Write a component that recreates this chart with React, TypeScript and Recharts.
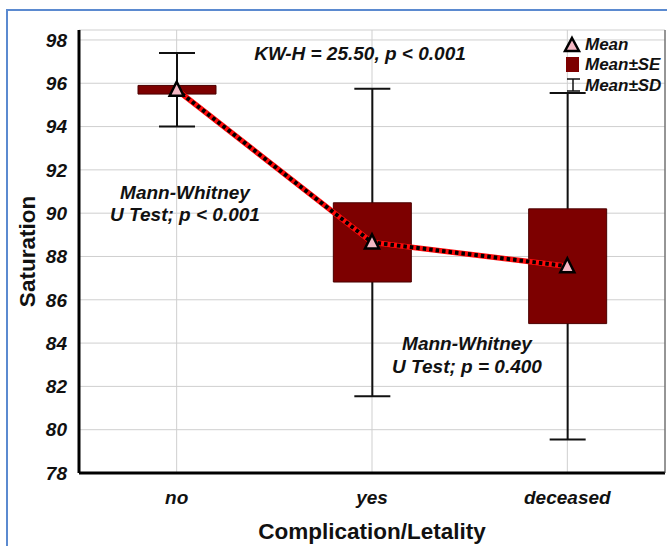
import { Bar, CartesianGrid, ComposedChart, Line, XAxis, YAxis } from "recharts";

const categories = ["no", "yes", "deceased"];
const means = [95.7, 88.65, 87.55];
const seValues = [0.2, 1.83, 2.65];
const sdValues = [1.7, 7.1, 8.0];
const yTicks = [78, 80, 82, 84, 86, 88, 90, 92, 94, 96, 98];

const data = categories.map((name, i) => ({
  name,
  mean: means[i],
  se: [means[i] - seValues[i], means[i] + seValues[i]],
  sd: [means[i] - sdValues[i], means[i] + sdValues[i]],
}));

const font = "'Liberation Sans', Arial, sans-serif";
const boxColor = "#7d0000";
const pink = "#f4b8c4";

function TriangleDot(props: any) {
  const { cx, cy } = props;
  if (cx == null || cy == null) return null;
  const s = 7;
  return (
    <path
      d={`M${cx},${cy - s - 1} L${cx + s},${cy + s - 1} L${cx - s},${cy + s - 1} Z`}
      fill={pink}
      stroke="#000"
      strokeWidth={2.5}
    />
  );
}

// whisker: vertical line with caps, spans the bar's range
function Whisker(props: any) {
  const { x, y, width, height } = props;
  if (x == null || y == null) return null;
  const mid = x + width / 2;
  return (
    <g stroke="#111" strokeWidth={2} fill="none">
      <line x1={mid} y1={y} x2={mid} y2={y + height} />
      <line x1={x} y1={y} x2={x + width} y2={y} />
      <line x1={x} y1={y + height} x2={x + width} y2={y + height} />
    </g>
  );
}

const tickStyle = { fill: "#111", fontFamily: font, fontSize: 19, fontWeight: 700, fontStyle: "italic" };
const noteStyle = { fontFamily: font, fontSize: 19, fontWeight: 700, fontStyle: "italic", fill: "#111" };
const legendText = { ...noteStyle, fontSize: 17 };

export default function App() {
  return (
    <div style={{ position: "absolute", left: 0, top: 0, width: 667, height: 546, background: "#fff", overflow: "hidden" }}>
      <div
        style={{
          position: "absolute",
          left: 6,
          top: 9,
          width: 700,
          height: 600,
          borderLeft: "2px solid #5b8ad0",
          borderTop: "2px solid #5b8ad0",
        }}
      />
      <ComposedChart width={667} height={546} data={data} margin={{ top: 30, right: 0, bottom: 0, left: 0 }}>
        <CartesianGrid stroke="#cfcfcf" strokeWidth={1} />
        <XAxis
          dataKey="name"
          xAxisId="top"
          orientation="top"
          height={0}
          tick={false}
          tickLine={false}
          axisLine={{ stroke: "#444", strokeWidth: 1 }}
        />
        <XAxis
          dataKey="name"
          height={73}
          tickLine={false}
          tickMargin={12}
          tick={tickStyle}
          axisLine={{ stroke: "#000", strokeWidth: 3 }}
          label={{ value: "Complication/Letality", position: "insideBottom", offset: 7, style: { fontFamily: font, fontSize: 22.5, fontWeight: 700, fill: "#111" } }}
        />
        <YAxis
          domain={[78, 98.46]}
          ticks={yTicks}
          allowDataOverflow
          width={79}
          tickLine={false}
          tickMargin={6}
          tick={tickStyle}
          axisLine={{ stroke: "#000", strokeWidth: 3 }}
          label={{ value: "Saturation", angle: -90, position: "insideLeft", offset: 27, style: { fontFamily: font, fontSize: 22.5, fontWeight: 700, fill: "#111", textAnchor: "middle" } }}
        />
        <YAxis
          yAxisId="right"
          orientation="right"
          domain={[78, 98.46]}
          ticks={yTicks}
          width={2}
          tick={false}
          tickLine={false}
          axisLine={{ stroke: "#444", strokeWidth: 1 }}
        />
        <Bar dataKey="sd" xAxisId="top" barSize={36} shape={<Whisker />} isAnimationActive={false} />
        <Bar dataKey="se" barSize={78} fill={boxColor} stroke="#4a0000" strokeWidth={1} isAnimationActive={false} />
        <Line dataKey="mean" stroke="#ff0a0a" strokeWidth={5.5} dot={false} activeDot={false} isAnimationActive={false} />
        <Line
          dataKey="mean"
          stroke="#000"
          strokeWidth={4}
          strokeDasharray="3.5 3"
          dot={<TriangleDot />}
          activeDot={false}
          isAnimationActive={false}
        />
      </ComposedChart>
      <svg width={667} height={546} style={{ position: "absolute", left: 0, top: 0, pointerEvents: "none" }}>
        <text x={360} y={60} textAnchor="middle" style={noteStyle}>KW-H = 25.50, p &lt; 0.001</text>
        <text x={185} y={199} textAnchor="middle" style={noteStyle}>Mann-Whitney</text>
        <text x={185} y={221} textAnchor="middle" style={noteStyle}>U Test; p &lt; 0.001</text>
        <text x={467} y={350} textAnchor="middle" style={noteStyle}>Mann-Whitney</text>
        <text x={467} y={373} textAnchor="middle" style={noteStyle}>U Test; p = 0.400</text>
        <g>
          <path d="M572,38 L579,51 L565,51 Z" fill={pink} stroke="#000" strokeWidth={2.5} />
          <text x={585} y={50} style={legendText}>Mean</text>
          <rect x={566} y={57} width={13} height={15} fill={boxColor} />
          <text x={585} y={70} style={legendText}>Mean±SE</text>
          <path d="M567,79 L580,79 M573,79 L573,91 M567,91 L580,91" stroke="#111" strokeWidth={1.5} fill="none" />
          <text x={585} y={91} style={legendText}>Mean±SD</text>
        </g>
      </svg>
    </div>
  );
}
